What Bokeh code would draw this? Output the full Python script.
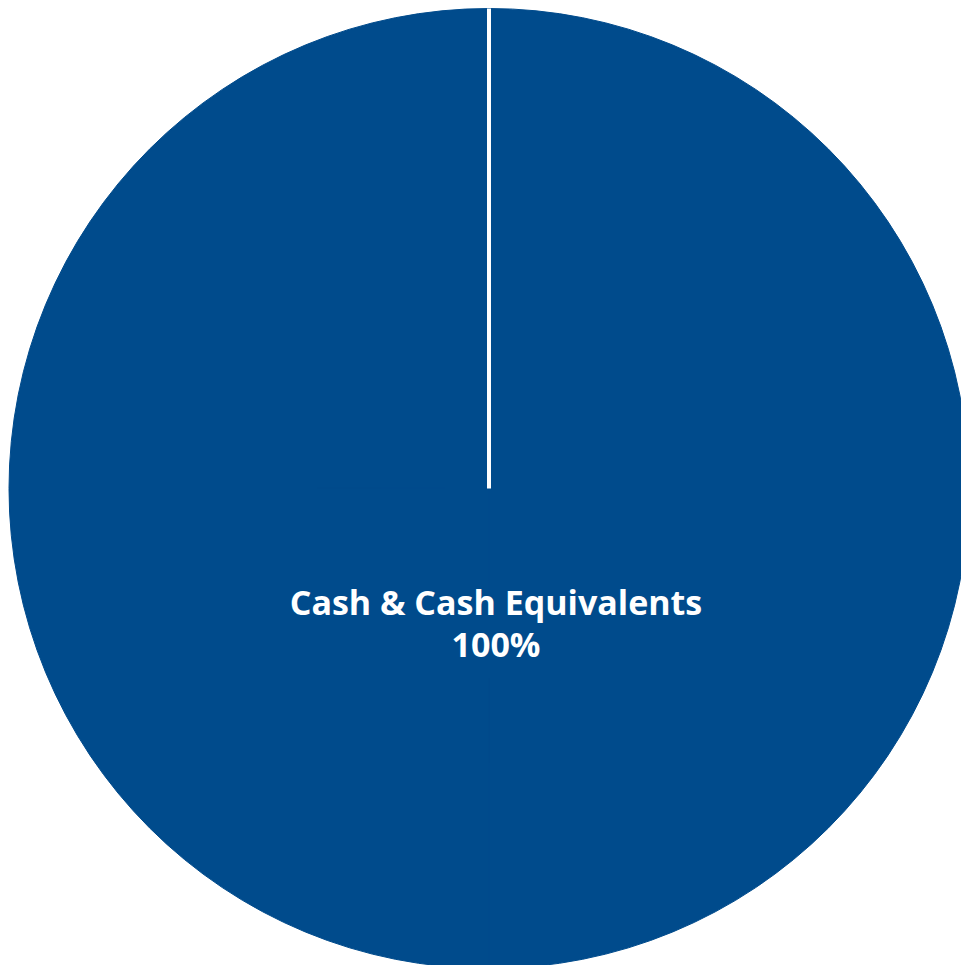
import math
from bokeh.plotting import figure
from bokeh.models import ColumnDataSource
from bokeh.core.properties import value
from bokeh.embed import file_html
from bokeh.resources import INLINE

# Data
categories = ["Cash & Cash Equivalents"]
percentages = [100]
colors = ["#004B8C"]

W, H = 961, 965
CX, CY, R = 488.5, 477.0, 480.0

total = float(sum(percentages))
starts, ends = [], []
cum = 0.0
for v in percentages:
    starts.append(math.pi / 2 - 2 * math.pi * cum / total)
    cum += v
    ends.append(math.pi / 2 - 2 * math.pi * cum / total)

# split each slice into pieces of at most a quarter turn (SVG cannot draw a full-circle arc)
px, py, ps, pe, pc = [], [], [], [], []
for s, e, c in zip(starts, ends, colors):
    sweep = s - e
    n = max(1, math.ceil(sweep / (math.pi / 2) - 1e-9))
    for k in range(n):
        a0 = s - sweep * k / n
        a1 = s - sweep * (k + 1) / n
        px.append(CX); py.append(CY); ps.append(a0); pe.append(a1); pc.append(c)

piece_src = ColumnDataSource(dict(x=px, y=py, start=ps, end=pe, color=pc))

p = figure(width=W, height=H, x_range=(0, W), y_range=(0, H),
           output_backend="svg", toolbar_location=None, min_border=0)
p.axis.visible = False
p.grid.visible = False
p.outline_line_color = None
p.background_fill_color = "white"
p.border_fill_color = "white"

p.wedge(x="x", y="y", radius=R, start_angle="start", end_angle="end",
        direction="clock", fill_color="color", line_color="color",
        line_width=1, source=piece_src)

# slice boundaries (white separators)
bsrc = ColumnDataSource(dict(
    x0=[CX] * len(starts), y0=[CY] * len(starts),
    x1=[CX + R * math.cos(a) for a in starts],
    y1=[CY + R * math.sin(a) for a in starts],
))
p.segment(x0="x0", y0="y0", x1="x1", y1="y1", source=bsrc,
          line_color="white", line_width=4)

lsrc = ColumnDataSource(dict(
    x=[CX + 7] * len(categories),
    y1=[CY - 113] * len(categories),
    y2=[CY - 155] * len(categories),
    name=categories,
    pct=[f"{v:g}%" for v in percentages],
))
p.text(x="x", y="y1", text="name", source=lsrc, text_color="white",
       text_font=value("Open Sans"), text_font_style="bold", text_font_size="34px",
       text_align="center", text_baseline="alphabetic")
p.text(x="x", y="y2", text="pct", source=lsrc, text_color="white",
       text_font=value("Open Sans"), text_font_style="bold", text_font_size="34px",
       text_align="center", text_baseline="alphabetic")

open("out.html", "w").write(file_html(p, INLINE))
